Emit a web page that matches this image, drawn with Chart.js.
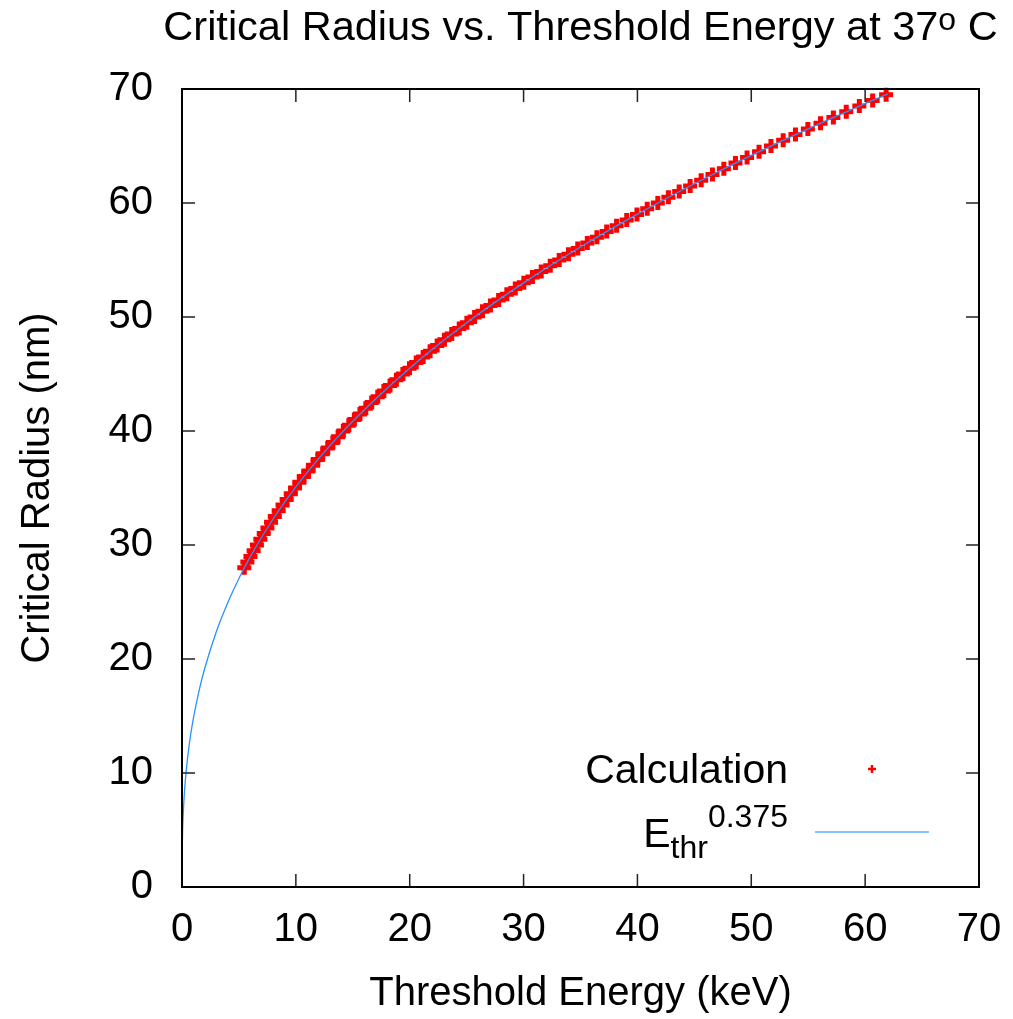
<!DOCTYPE html>
<html>
<head>
<meta charset="utf-8">
<title>Critical Radius vs. Threshold Energy</title>
<script src="https://cdn.jsdelivr.net/npm/chart.js@4"></script>
<style>
  html, body { margin: 0; padding: 0; background: #fff; }
  #wrap { width: 1013px; height: 1019px; position: relative; }
</style>
</head>
<body>
<div id="wrap"><canvas id="chart"></canvas></div>
<script>
// calculated points: threshold energy (keV) and critical radius (nm)
const calcEnergy = [5.47, 5.74, 6.01, 6.29, 6.58, 6.88, 7.18, 7.50, 7.82, 8.15,
  8.49, 8.83, 9.19, 9.55, 9.93, 10.31, 10.70, 11.10, 11.51, 11.93,
  12.36, 12.80, 13.25, 13.71, 14.17, 14.65, 15.14, 15.63, 16.14, 16.66,
  17.19, 17.73, 18.27, 18.83, 19.40, 19.98, 20.57, 21.18, 21.79, 22.41,
  23.05, 23.69, 24.35, 25.02, 25.70, 26.39, 27.09, 27.81, 28.53, 29.27,
  30.02, 30.78, 31.55, 32.34, 33.13, 33.94, 34.76, 35.60, 36.44, 37.30,
  38.17, 39.06, 39.96, 40.86, 41.79, 42.72, 43.67, 44.63, 45.60, 46.59,
  47.59, 48.61, 49.63, 50.68, 51.73, 52.80, 53.88, 54.97, 56.08, 57.21,
  58.34, 59.49, 60.66, 61.84];
const calcRadius = [28.0, 28.5, 29.0, 29.5, 30.0, 30.5, 31.0, 31.5, 32.0, 32.5,
  33.0, 33.5, 34.0, 34.5, 35.0, 35.5, 36.0, 36.5, 37.0, 37.5,
  38.0, 38.5, 39.0, 39.5, 40.0, 40.5, 41.0, 41.5, 42.0, 42.5,
  43.0, 43.5, 44.0, 44.5, 45.0, 45.5, 46.0, 46.5, 47.0, 47.5,
  48.0, 48.5, 49.0, 49.5, 50.0, 50.5, 51.0, 51.5, 52.0, 52.5,
  53.0, 53.5, 54.0, 54.5, 55.0, 55.5, 56.0, 56.5, 57.0, 57.5,
  58.0, 58.5, 59.0, 59.5, 60.0, 60.5, 61.0, 61.5, 62.0, 62.5,
  63.0, 63.5, 64.0, 64.5, 65.0, 65.5, 66.0, 66.5, 67.0, 67.5,
  68.0, 68.5, 69.0, 69.5];

// E_thr^0.375 curve
const fitEnergy = [0.01, 0.02, 0.05, 0.1, 0.2, 0.3, 0.5, 0.75, 1, 1.5, 2, 3, 4, 5, 6, 8,
  10, 12, 15, 20, 25, 30, 35, 40, 45, 50, 55, 60, 62];
const fitRadius = [2.63, 3.41, 4.81, 6.24, 8.09, 9.42, 11.41, 13.29, 14.8, 17.23, 19.19,
  22.35, 24.89, 27.06, 28.98, 32.28, 35.10, 37.58, 40.86, 45.51, 49.49, 52.99, 56.14,
  59.02, 61.69, 64.18, 66.51, 68.72, 69.57];

const xTicks = [0, 10, 20, 30, 40, 50, 60, 70];
const yTicks = [0, 10, 20, 30, 40, 50, 60, 70];

const FONT = '"Liberation Sans", Arial, Helvetica, sans-serif';
const RED = '#ff0000';
const BLUE = 'rgb(40,145,255)';

Chart.defaults.color = '#000';
Chart.defaults.font.family = FONT;

// inward ticks on all four sides plus the black frame
const framePlugin = {
  id: 'frame',
  afterDatasetsDraw(chart) {
    const { ctx, chartArea: a, scales: { x, y } } = chart;
    const len = 13;
    ctx.save();
    ctx.strokeStyle = '#222';
    ctx.lineWidth = 1.5;
    ctx.beginPath();
    xTicks.forEach(v => {
      const px = x.getPixelForValue(v);
      ctx.moveTo(px, a.bottom); ctx.lineTo(px, a.bottom - len);
      ctx.moveTo(px, a.top); ctx.lineTo(px, a.top + len);
    });
    yTicks.forEach(v => {
      const py = y.getPixelForValue(v);
      ctx.moveTo(a.left, py); ctx.lineTo(a.left + len, py);
      ctx.moveTo(a.right, py); ctx.lineTo(a.right - len, py);
    });
    ctx.stroke();
    ctx.strokeStyle = '#000';
    ctx.lineWidth = 2;
    ctx.strokeRect(a.left, a.top, a.right - a.left, a.bottom - a.top);
    ctx.restore();
  }
};

// title and key (need super/subscripts, so drawn by hand)
const textPlugin = {
  id: 'texts',
  afterDraw(chart) {
    const { ctx, chartArea: a } = chart;
    ctx.save();
    ctx.fillStyle = '#000';
    ctx.textBaseline = 'alphabetic';
    ctx.textAlign = 'left';

    // title
    const big = '41.5px ' + FONT, small = '32px ' + FONT;
    const t1 = 'Critical Radius vs. Threshold Energy at 37', t2 = 'o', t3 = ' C';
    ctx.font = big; const w1 = ctx.measureText(t1).width, w3 = ctx.measureText(t3).width;
    ctx.font = small; const w2 = ctx.measureText(t2).width;
    let tx = (a.left + a.right) / 2 - (w1 + w2 + w3) / 2;
    ctx.font = big; ctx.fillText(t1, tx, 40); tx += w1;
    ctx.font = small; ctx.fillText(t2, tx, 30); tx += w2;
    ctx.font = big; ctx.fillText(t3, tx, 40);

    // key
    const keyRight = 788;
    const keyFont = '41px ' + FONT;
    ctx.font = keyFont;
    ctx.textAlign = 'right';
    ctx.fillText('Calculation', keyRight, 783);
    ctx.textAlign = 'left';
    const wE = ctx.measureText('E').width;
    ctx.font = small; const wSub = ctx.measureText('thr').width, wSup = ctx.measureText('0.375').width;
    let kx = keyRight - wE - wSub - wSup;
    ctx.font = keyFont; ctx.fillText('E', kx, 847); kx += wE;
    ctx.font = small; ctx.fillText('thr', kx, 858); kx += wSub;
    ctx.fillText('0.375', kx, 827);

    // key samples
    ctx.strokeStyle = RED;
    ctx.lineWidth = 2.5;
    ctx.beginPath();
    ctx.moveTo(868, 769); ctx.lineTo(876, 769);
    ctx.moveTo(872, 765); ctx.lineTo(872, 773);
    ctx.stroke();
    ctx.strokeStyle = 'rgb(100,175,255)';
    ctx.lineWidth = 1.5;
    ctx.beginPath();
    ctx.moveTo(815, 832); ctx.lineTo(929, 832);
    ctx.stroke();
    ctx.restore();
  }
};

new Chart(document.getElementById('chart'), {
  type: 'scatter',
  data: {
    datasets: [
      {
        label: 'E_thr^0.375',
        data: fitEnergy.map((e, i) => ({ x: e, y: fitRadius[i] })),
        showLine: true,
        borderColor: BLUE,
        borderWidth: 1.3,
        pointRadius: 0,
        cubicInterpolationMode: 'monotone',
        order: 0
      },
      {
        label: 'Calculation',
        data: calcEnergy.map((e, i) => ({ x: e, y: calcRadius[i] })),
        pointStyle: 'cross',
        pointRadius: 7,
        pointBorderWidth: 5,
        borderColor: RED,
        backgroundColor: RED,
        clip: false,
        order: 1
      }
    ]
  },
  options: {
    responsive: true,
    maintainAspectRatio: false,
    animation: false,
    devicePixelRatio: 1,
    layout: { padding: { top: 89, right: 34, left: 0, bottom: 0 } },
    plugins: {
      legend: { display: false },
      tooltip: { enabled: false },
      title: { display: false }
    },
    scales: {
      x: {
        type: 'linear',
        min: 0, max: 70,
        afterBuildTicks: s => { s.ticks = xTicks.map(v => ({ value: v })); },
        afterFit: s => { s.height = 132; s.paddingLeft = 0; s.paddingRight = 0; },
        grid: { display: false, drawTicks: false },
        border: { display: false },
        ticks: { padding: 19, font: { size: 40 }, color: '#000' },
        title: {
          display: true,
          text: 'Threshold Energy (keV)',
          font: { size: 40 },
          color: '#000',
          padding: { top: 0, bottom: 1 }
        }
      },
      y: {
        type: 'linear',
        min: 0, max: 70,
        afterBuildTicks: s => { s.ticks = yTicks.map(v => ({ value: v })); },
        afterFit: s => { s.width = 182; s.paddingTop = 0; s.paddingBottom = 0; },
        grid: { display: false, drawTicks: false },
        border: { display: false },
        ticks: { padding: 29, font: { size: 40 }, color: '#000' },
        title: {
          display: true,
          text: 'Critical Radius (nm)',
          font: { size: 40 },
          color: '#000',
          padding: { top: 14, bottom: 0 }
        }
      }
    }
  },
  plugins: [framePlugin, textPlugin]
});
</script>
</body>
</html>
